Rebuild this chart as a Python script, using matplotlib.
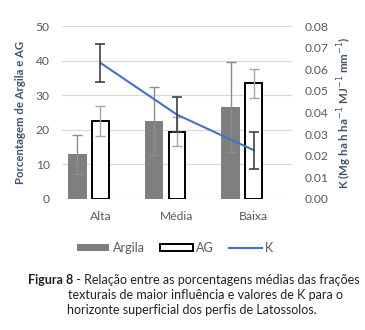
import numpy as np
import matplotlib.pyplot as plt

plt.rcParams['font.family'] = ['Lato', 'DejaVu Sans']

# dados
classes = ['Alta', 'Média', 'Baixa']
argila = [12.9, 22.5, 26.5]
argila_err = [5.6, 9.9, 13.0]
ag = [22.5, 19.5, 33.4]
ag_err = [4.3, 4.3, 4.2]
k_vals = [0.063, 0.039, 0.0226]
k_err = [0.0088, 0.008, 0.0086]

txt = '#595959'

fig = plt.figure(figsize=(3.65, 3.3), dpi=100)
ax = fig.add_axes([0.170, 0.397, 0.630, 0.524])
x = np.arange(len(classes))

ax.bar(x - 0.30, argila, 0.24, color='#7f7f7f', zorder=2, label='Argila')
ax.errorbar(x - 0.30, argila, yerr=argila_err, fmt='none', ecolor='#8c8c8c',
            elinewidth=1, capsize=3.5, capthick=1, zorder=3)
ax.bar(x, ag, 0.22, color='white', edgecolor='black', linewidth=1.4, zorder=2, label='AG')
ax.errorbar(x, ag, yerr=ag_err, fmt='none', ecolor='#a6a6a6',
            elinewidth=1, capsize=3.5, capthick=1, zorder=3)

ax.set_ylim(0, 50)
ax.set_yticks(np.arange(0, 51, 10))
ax.set_xlim(-0.5, 2.5)
ax.set_xticks(x)
ax.set_xticklabels(classes)
ax.grid(axis='y', color='#d9d9d9', linewidth=0.8, zorder=0)
for s in ax.spines.values():
    s.set_visible(False)
ax.tick_params(length=0, labelsize=8.7, labelcolor=txt)
ax.tick_params(axis='y', pad=9)
ax.tick_params(axis='x', pad=9)
ax.set_ylabel('Porcentagem de Argila e AG', fontsize=8.2, fontweight='bold', color='#44546a', labelpad=7)

ax2 = ax.twinx()
ax2.plot(x, k_vals, color='#4472c4', linewidth=1.5, zorder=4, label='K')
ax2.errorbar(x, k_vals, yerr=k_err, fmt='none', ecolor='#404040',
             elinewidth=1.2, capsize=3.5, capthick=1.2, zorder=5)
ax2.set_ylim(0, 0.08)
ax2.set_yticks(np.arange(0, 0.081, 0.01))
ax2.set_yticklabels(['%.2f' % v for v in np.arange(0, 0.081, 0.01)])
for s in ax2.spines.values():
    s.set_visible(False)
ax2.tick_params(length=0, labelsize=8.7, labelcolor=txt, pad=9)
ax2.set_ylabel('K (Mg ha h ha$^{-1}$ MJ$^{-1}$ mm$^{-1}$)', fontsize=8.3, fontweight='bold',
               color='#44546a', labelpad=5)

h1, l1 = ax.get_legend_handles_labels()
h2, l2 = ax2.get_legend_handles_labels()
fig.legend(h1 + h2, l1 + l2, loc='center', bbox_to_anchor=(0.48, 0.248), ncol=3,
           frameon=False, fontsize=9, labelcolor=txt, handlelength=2.6, handleheight=0.45,
           handletextpad=0.3, columnspacing=1.2)

# legenda da figura
t1 = fig.text(0.077, 0.152, 'Figura 8', fontsize=9, fontweight='bold', va='center', color='#222222')
fig.canvas.draw()
bb = t1.get_window_extent()
x1 = bb.x1 / fig.bbox.width
fig.text(x1, 0.152, ' - Relação entre as porcentagens médias das frações', fontsize=9,
         va='center', color='#222222')
fig.text(0.186, 0.106, 'texturais de maior influência e valores de K para o', fontsize=9,
         va='center', color='#222222')
fig.text(0.184, 0.061, 'horizonte superficial dos perfis de Latossolos.', fontsize=9,
         va='center', color='#222222')

fig.savefig('out.png', dpi=100)
